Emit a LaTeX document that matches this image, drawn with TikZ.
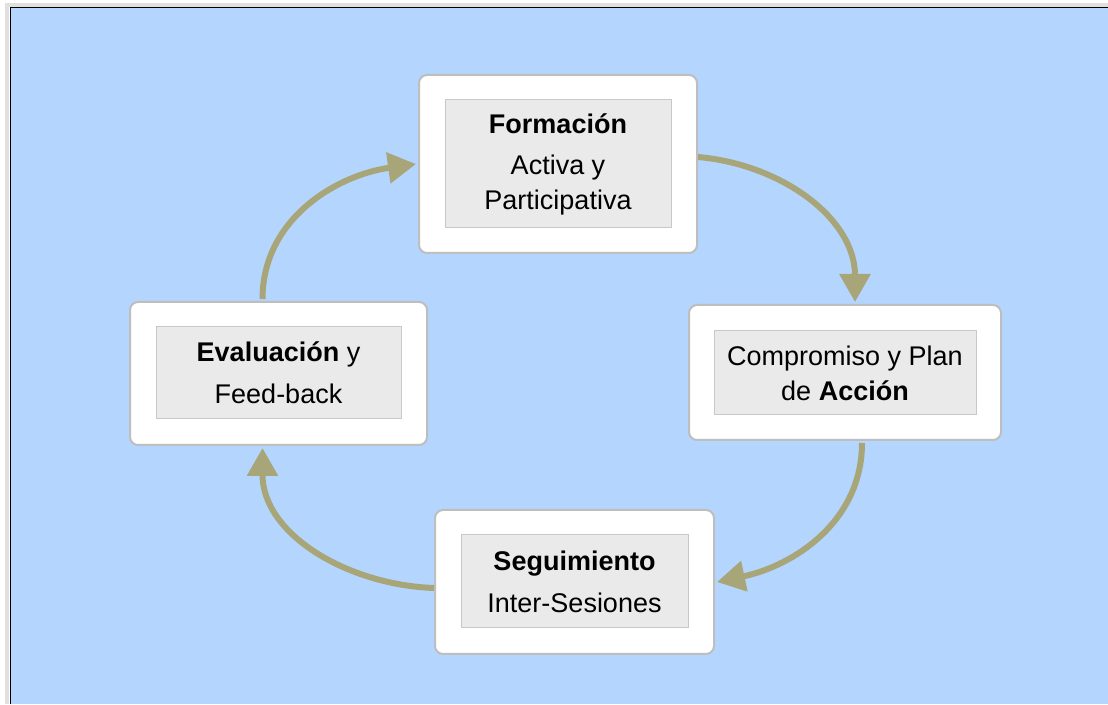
\documentclass[tikz,border=0pt]{standalone}
\usepackage{fontspec}
\setmainfont{Liberation Sans}
\usetikzlibrary{arrows.meta}

\definecolor{bgblue}{RGB}{180,213,253}
\definecolor{flowcol}{RGB}{168,166,120}
\definecolor{innerfill}{RGB}{234,234,234}
\definecolor{innerline}{RGB}{200,200,200}
\definecolor{outerline}{RGB}{190,190,190}

\begin{document}
\begin{tikzpicture}[x=1pt, y=1pt,
    outerbox/.style={rectangle, rounded corners=8pt, fill=white, draw=outerline, line width=2pt},
    innerbox/.style={rectangle, fill=innerfill, draw=innerline, line width=1pt, align=center,
        font=\fontsize{27}{35}\selectfont},
    flow/.style={draw=flowcol, line width=6pt, -{Triangle[length=28pt,width=30pt]}}]

        % frame
        \useasboundingbox (0,0) rectangle (1108,704);
        \fill[white] (0,0) rectangle (1108,704);
        \draw[black!12, line width=4pt] (7,0) -- (7,699) -- (1108,699);
        \fill[bgblue] (10,0) rectangle (1108,696);
        \draw[black, line width=1pt] (10,0) -- (10,696) -- (1108,696);

            % boxes
            \node (formacion) [outerbox, minimum width=278pt, minimum height=178pt] at (558,540) {};
            \node (formacionTxt) [innerbox, minimum width=226pt, minimum height=128pt] at (558,540) {\textbf{Formación}\\[6pt]Activa y\\Participativa};

            \node (compromiso) [outerbox, minimum width=312pt, minimum height=135pt] at (845,331.5) {};
            \node (compromisoTxt) [innerbox, minimum width=262pt, minimum height=84pt] at (845,331) {Compromiso y Plan\\de \textbf{Acción}};

            \node (seguimiento) [outerbox, minimum width=279pt, minimum height=144pt] at (574.5,122) {};
            \node (seguimientoTxt) [innerbox, minimum width=227pt, minimum height=93pt] at (574.5,122.5) {\textbf{Seguimiento}\\[7pt]Inter-Sesiones};

            \node (evaluacion) [outerbox, minimum width=297pt, minimum height=143pt] at (278.5,330.5) {};
            \node (evaluacionTxt) [innerbox, minimum width=245pt, minimum height=92pt] at (278.5,331) {\textbf{Evaluación} y\\[7pt]Feed-back};

            % cycle
            \draw[flow] ([xshift=-16pt, yshift=2pt]evaluacion.north) to[out=90, in=188] ([xshift=-2pt]formacion.west);
            \draw[flow] ([yshift=7pt]formacion.east) to[out=-5, in=90] ([xshift=10pt, yshift=2pt]compromiso.north);
            \draw[flow] ([xshift=17pt, yshift=-2pt]compromiso.south) to[out=-90, in=12] ([xshift=2pt]seguimiento.east);
            \draw[flow] ([yshift=-6pt]seguimiento.west) to[out=178, in=-90] ([xshift=-16pt, yshift=-2pt]evaluacion.south);

\end{tikzpicture}
\end{document}
